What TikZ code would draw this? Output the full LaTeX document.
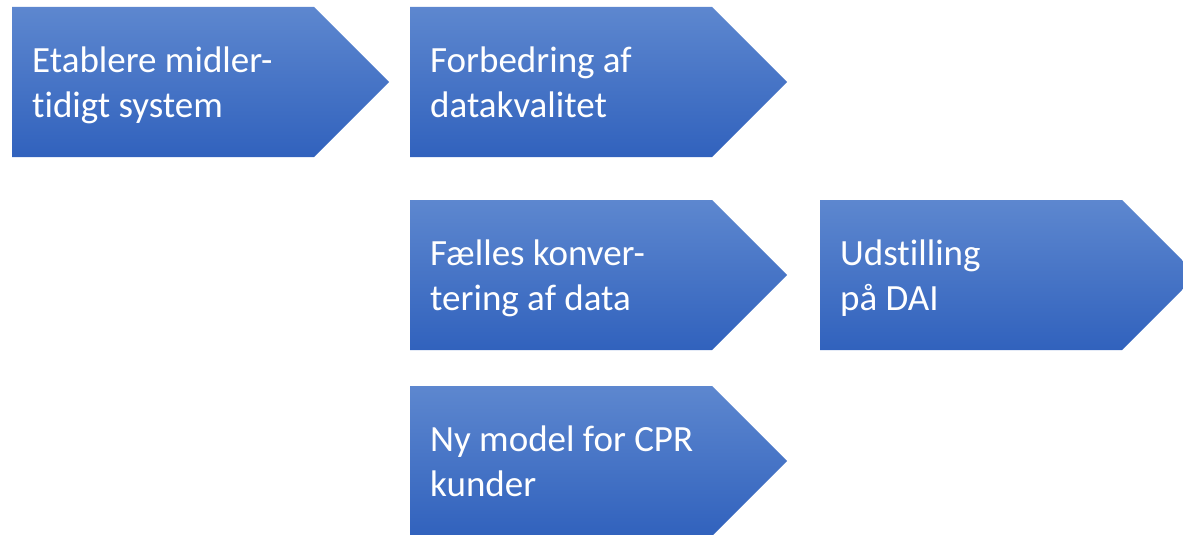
\documentclass[tikz,border=0pt]{standalone}
\usepackage{fontspec}
\setmainfont{Carlito}[Ligatures=NoCommon]
\usetikzlibrary{shapes.symbols,positioning}
\definecolor{steptop}{RGB}{93,135,207}
\definecolor{stepbot}{RGB}{49,98,189}

\begin{document}
\begin{tikzpicture}[x=1pt,y=1pt,
    chevron/.style={signal, signal to=east, signal from=nowhere, signal pointer angle=90,
      minimum width=377pt, minimum height=150pt, inner sep=0pt, outer sep=0pt,
      top color=steptop, bottom color=stepbot, draw=none, anchor=north west},
    steptext/.style={anchor=north west, inner sep=0pt, align=left, text=white,
      font=\fontsize{37}{45}\selectfont}]
    \useasboundingbox (0,0) rectangle (1183,-535);

    % Draw the five arrow boxes
    \node[chevron] (etablere) at (12,-7) {};
    \node[chevron] (forbedring) at (410,-7) {};
    \node[chevron] (konvertering) at (410,-200) {};
    \node[chevron] (udstilling) at (820,-200) {};
    \node[chevron] (cprmodel) at (410,-386) {};

    % Write the texts into the boxes
    \node[steptext] (etablere-txt) at ([xshift=20pt,yshift=-40pt]etablere.north west) {Etablere midler-\\tidigt system};
    \node[steptext] (forbedring-txt) at ([xshift=20pt,yshift=-40pt]forbedring.north west) {Forbedring af\\datakvalitet};
    \node[steptext] (konvertering-txt) at ([xshift=20pt,yshift=-40pt]konvertering.north west) {Fælles konver-\\tering af data};
    \node[steptext] (udstilling-txt) at ([xshift=20pt,yshift=-40pt]udstilling.north west) {Udstilling\\på DAI};
    \node[steptext] (cprmodel-txt) at ([xshift=20pt,yshift=-40pt]cprmodel.north west) {Ny model for CPR\\kunder};
\end{tikzpicture}
\end{document}
